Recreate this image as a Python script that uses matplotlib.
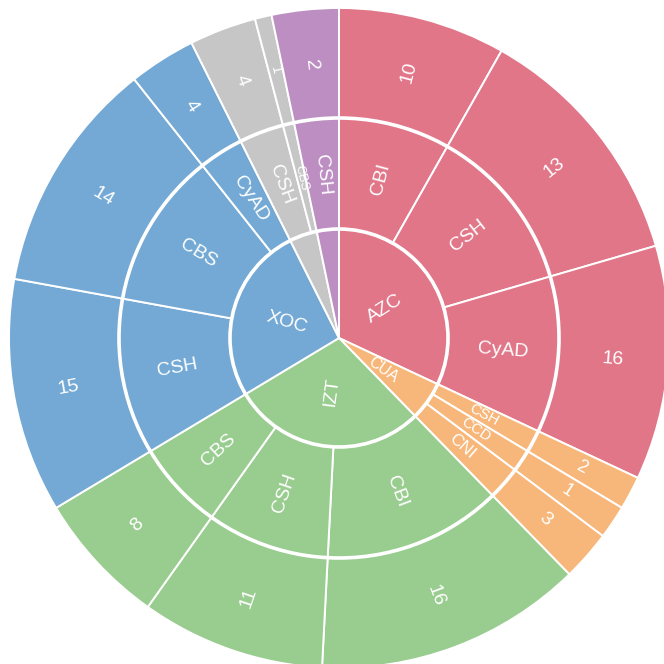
import matplotlib
matplotlib.use("Agg")
import matplotlib.pyplot as plt
from matplotlib.patches import Wedge, Circle
import numpy as np

# ---- data ----
campus = ["AZC", "CUA", "IZT", "XOC", "", ""]
campus_colors = ["#E17689", "#F8B77A", "#99CC8F", "#73A9D4", "#C6C6C6", "#BC8EC2"]

division_campus = [0, 0, 0, 1, 1, 1, 2, 2, 2, 3, 3, 3, 4, 4, 5]
division = ["CBI", "CSH", "CyAD", "CSH", "CCD", "CNI", "CBI", "CSH", "CBS",
            "CSH", "CBS", "CyAD", "CSH", "CBS", "CSH"]
division_size = [10, 15, 14, 2, 2, 3, 16, 11, 8, 14, 14, 4, 4, 1, 4]
division_count = [10, 13, 16, 2, 1, 3, 16, 11, 8, 15, 14, 4, 4, 1, 2]

# ---- layout ----
W = 664
fig = plt.figure(figsize=(W / 100, W / 100), dpi=100)
ax = fig.add_axes([0, 0, 1, 1])
ax.set_xlim(0, W)
ax.set_ylim(0, W)
ax.set_aspect("equal")
ax.axis("off")

cx, cy = 339, W - 338
radii = [0, 109, 220, 330]
total = sum(division_size)
deg_per = 360.0 / total
FONT = ["Liberation Sans", "DejaVu Sans"]


def draw_wedge(t0, t1, r_in, r_out, color):
    width = None if r_in == 0 else r_out - r_in
    w = Wedge((cx, cy), r_out, 90 - t1, 90 - t0, width=width,
              facecolor=color, edgecolor="white", linewidth=1.4)
    ax.add_patch(w)


def draw_label(text, t0, t1, r_in, r_out):
    if not text:
        return
    tm = (t0 + t1) / 2
    rm = (r_in + r_out) / 2
    a = np.deg2rad(90 - tm)
    x = cx + rm * np.cos(a)
    y = cy + rm * np.sin(a)
    rot = 90 - tm if tm < 180 else 270 - tm
    arc_px = np.deg2rad(t1 - t0) * rm
    fs_px = 19.4 if arc_px > 30 else min(19.4, 10.6 + 0.25 * arc_px)
    ax.text(x, y, text, rotation=rot, rotation_mode="anchor",
            ha="center", va="center", color="white",
            fontsize=fs_px * 72 / 100, family=FONT)


# children (middle + outer rings)
start = 0.0
campus_span = {}
for i, name in enumerate(division):
    span = division_size[i] * deg_per
    ci = division_campus[i]
    col = campus_colors[ci]
    t0, t1 = start, start + span
    draw_wedge(t0, t1, radii[1], radii[2], col)
    draw_wedge(t0, t1, radii[2], radii[3], col)
    draw_label(name, t0, t1, radii[1], radii[2])
    draw_label(str(division_count[i]), t0, t1, radii[2], radii[3])
    s = campus_span.get(ci, [t0, t1])
    campus_span[ci] = [min(s[0], t0), max(s[1], t1)]
    start = t1

# inner ring
for ci, name in enumerate(campus):
    t0, t1 = campus_span[ci]
    draw_wedge(t0, t1, 0, radii[1], campus_colors[ci])
    draw_label(name, t0, t1, 0, radii[1])

for r in radii[1:3]:
    ax.add_patch(Circle((cx, cy), r, fill=False, edgecolor="white", linewidth=2.6))

fig.savefig("out.png", dpi=100)
